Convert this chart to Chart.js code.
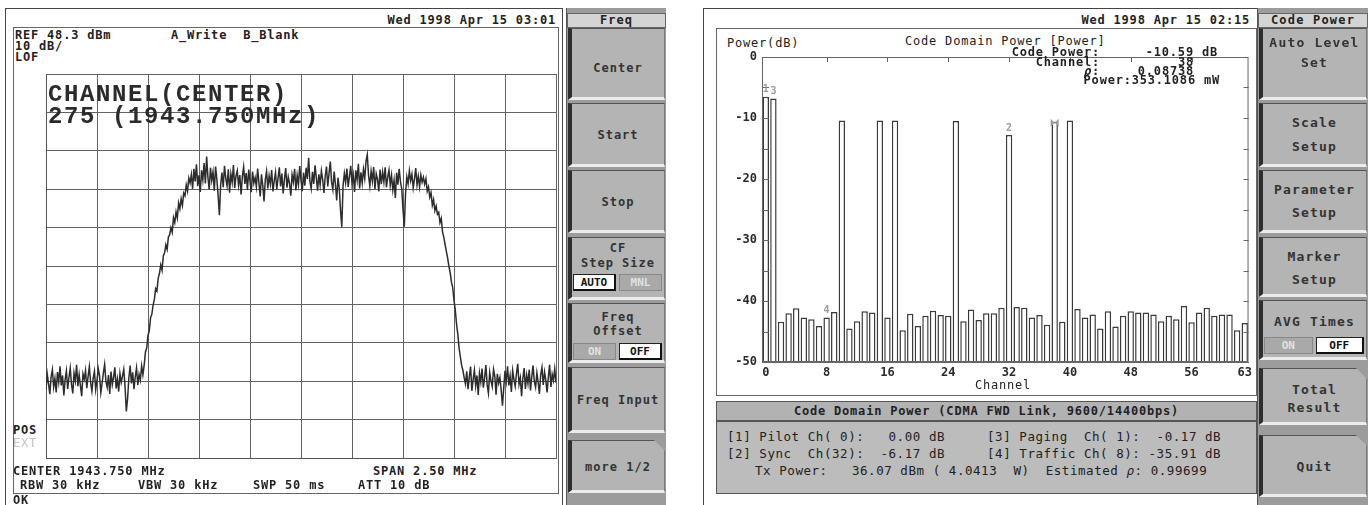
<!DOCTYPE html>
<html>
<head>
<meta charset="utf-8">
<title>Spectrum / Code Domain Power</title>
<script src="https://cdn.jsdelivr.net/npm/chart.js@4.4.1/dist/chart.umd.min.js"></script>
<style>
  html, body { margin:0; padding:0; background:#fff; }
  body { width:1368px; height:505px; position:relative; overflow:hidden; font-family:"DejaVu Sans Mono", monospace; color:#222; }
  .t { position:absolute; white-space:pre; font-weight:bold; font-size:12px; letter-spacing:.8px; line-height:14px; }
  .n { font-weight:normal; }
  .frame { position:absolute; border:1px solid #444; box-sizing:border-box; }
  .big { position:absolute; white-space:pre; font-family:"Liberation Mono", monospace; font-weight:bold; font-size:24px; letter-spacing:1.6px; line-height:24px; color:#2b2b2b; }
  canvas { position:absolute; }
  .panel { position:absolute; top:8px; height:497px; background:#9c9c9c; border-left:1px solid #555; box-sizing:border-box; }
  .hdr { position:absolute; left:0; right:0; top:5px; height:15px; background:#d4d4d4; border:1px solid #666; box-sizing:border-box;
         text-align:center; font-weight:bold; font-size:12px; line-height:13px; color:#222; }
  .key { position:absolute; left:1px; right:1px; background:#b4b4b4; box-sizing:border-box;
         border-left:4px solid #2e2e2e; border-top:1px solid #555; border-bottom:3px solid #ececec; border-right:1px solid #777; }
  .fold { clip-path: polygon(0 0, calc(100% - 11px) 0, 100% 11px, 100% 100%, 0 100%); }
  .kt { position:absolute; left:0; right:0; text-align:center; white-space:pre; font-weight:bold; color:#333; line-height:14px; }
  .tg { position:absolute; height:17px; box-sizing:border-box; text-align:center; font-weight:bold; font-size:11px; line-height:15px; }
  .tg.on { background:#fff; color:#111; border:1px solid #222; border-right:2px solid #111; border-bottom:2px solid #111; }
  .tg.off { background:#a9a9a9; color:#e2e2e2; border:1px solid #888; }
  .bar { position:absolute; background:#b2b2b2; border:1px solid #555; box-sizing:border-box; }
  .row { font-size:12.5px; letter-spacing:.55px; }
</style>
</head>
<body>

<!-- left screen: spectrum -->
<div class="frame" style="left:5px; top:8px; width:558px; height:510px;"></div>
<div class="frame" style="left:13px; top:27px; width:546px; height:467px; border-color:#666;"></div>
<div class="t" style="right:812px; top:13px;">Wed 1998 Apr 15 03:01</div>
<div class="t" style="left:15px; top:28px;">REF 48.3 dBm</div>
<div class="t" style="left:171px; top:28px;">A_Write  B_Blank</div>
<div class="t" style="left:15px; top:39px;">10 dB/</div>
<div class="t" style="left:15px; top:50px;">LOF</div>
<canvas id="spectrum" width="516" height="390" style="left:43px; top:71px;"></canvas>
<div class="big" style="left:48px; top:83px;">CHANNEL(CENTER)</div>
<div class="big" style="left:48px; top:105px;">275 (1943.750MHz)</div>
<div class="t" style="left:13px; top:423px;">POS</div>
<div class="t n" style="left:13px; top:436px; color:#c4c4c4;">EXT</div>
<div class="t" style="left:13px; top:464px;">CENTER 1943.750 MHz</div>
<div class="t" style="left:373px; top:464px;">SPAN 2.50 MHz</div>
<div class="t" style="left:20px; top:478px;">RBW 30 kHz</div>
<div class="t" style="left:138px; top:478px;">VBW 30 kHz</div>
<div class="t" style="left:253px; top:478px;">SWP 50 ms</div>
<div class="t" style="left:358px; top:478px;">ATT 10 dB</div>
<div class="t" style="left:13px; top:493px;">OK</div>

<div class="panel" id="left_keys" style="left:566px; width:100px;"></div>

<!-- right screen: code domain power -->
<div class="frame" style="left:703px; top:8px; width:556px; height:510px;"></div>
<div class="frame" style="left:716px; top:28px; width:541px; height:368px; border-color:#666;"></div>
<div class="t" style="right:118px; top:13px;">Wed 1998 Apr 15 02:15</div>
<div class="t n" style="left:727px; top:36px;">Power(dB)</div>
<div class="t n" style="left:905px; top:34px;">Code Domain Power [Power]</div>
<canvas id="cdp" width="540" height="350" style="left:716px; top:40px;"></canvas>
<div class="t" style="right:268px; top:45px;">Code Power:</div>
<div class="t" style="right:150px; top:45px;">-10.59 dB</div>
<div class="t" style="right:268px; top:55px;">Channel:</div>
<div class="t" style="right:174px; top:55px;">38</div>
<div class="t" style="right:268px; top:64px;"><i>ρ</i>:</div>
<div class="t" style="right:174px; top:64px;">0.08738</div>
<div class="t" style="right:148px; top:73px;">Power:353.1086 mW</div>
<div class="t n" style="left:953px; width:100px; text-align:center; top:378px;">Channel</div>

<div class="bar" style="left:716px; top:401px; width:541px; height:20px;"></div>
<div class="t" style="left:716px; width:541px; text-align:center; top:404px;">Code Domain Power (CDMA FWD Link, 9600/14400bps)</div>
<div class="bar" style="left:716px; top:421px; width:541px; height:73px; background:#bcbcbc;"></div>
<div class="t n row" style="left:727px; top:430px;">[1] Pilot Ch( 0):   0.00 dB</div>
<div class="t n row" style="left:987px; top:430px;">[3] Paging  Ch( 1):  -0.17 dB</div>
<div class="t n row" style="left:727px; top:447px;">[2] Sync  Ch(32):  -6.17 dB</div>
<div class="t n row" style="left:987px; top:447px;">[4] Traffic Ch( 8): -35.91 dB</div>
<div class="t n row" style="left:755px; top:464px;">Tx Power:   36.07 dBm ( 4.0413  W)  Estimated <i>ρ</i>: 0.99699</div>

<div class="panel" id="right_keys" style="left:1257px; width:111px;"></div>

<script>
// ---- spectrum trace (dBm), 401 sweep points across the span ----
var traceDbm = [
  -33.8, -29.9, -32.4, -35.1, -30.6, -28.7, -33.2, -31.0, -34.6, -29.3,
  -31.9, -27.8, -32.8, -30.2, -35.4, -31.3, -29.0, -33.7, -30.8, -28.3,
  -32.5, -34.9, -29.6, -31.6, -27.4, -33.0, -30.0, -32.9, -35.6, -29.8,
  -31.2, -28.9, -33.5, -30.5, -27.9, -32.1, -34.3, -30.9, -29.1, -33.9,
  -31.5, -28.4, -30.3, -34.7, -32.2, -29.5, -27.3, -31.8, -33.3, -30.1,
  -35.0, -29.2, -32.6, -30.7, -28.1, -33.6, -31.1, -34.4, -29.7, -32.0,
  -30.4, -28.6, -33.1, -39.6, -36.2, -30.8, -27.6, -32.3, -29.4, -33.8,
  -30.6, -28.2, -32.7, -29.9, -31.4, -27.7, -30.0,
  // rising edge
  -27.5, -24.1, -23.0, -19.8, -18.6, -15.2, -14.3, -11.9, -10.4, -7.6,
  -8.2, -4.9, -3.6, -1.4, -2.8, 0.9, 1.7, 3.8, 2.6, 5.9,
  6.4, 8.3, 7.1, 10.9, 9.6, 12.4, 10.8, 14.7, 13.2, 15.8,
  14.1, 17.3, 16.6, 19.4, 17.8, 21.2, 19.9,
  // channel top
  22.1, 18.4, 23.6, 20.3, 24.8, 19.1, 21.9, 17.6, 23.2, 20.7,
  25.1, 19.8, 26.8, 21.4, 18.2, 23.9, 20.6, 22.8, 17.9, 24.2,
  20.9, 16.7, 11.5, 19.5, 22.6, 18.8, 24.4, 21.1, 19.2, 23.5,
  17.4, 22.3, 20.1, 24.6, 18.6, 21.7, 23.1, 19.4, 22.0, 16.9,
  21.6, 24.1, 19.7, 22.5, 18.1, 23.4, 20.4, 17.5, 22.9, 19.9,
  21.3, 18.9, 23.7, 20.0, 16.4, 22.2, 19.3, 15.1, 20.8, 23.0,
  18.5, 21.8, 19.6, 23.3, 17.7, 20.5, 22.7, 18.3, 21.2, 24.0,
  19.0, 22.4, 17.2, 20.9, 23.8, 18.7, 21.5, 19.8, 16.6, 22.1,
  20.2, 23.6, 18.0, 21.9, 19.5, 24.3, 20.6, 17.8, 22.6, 19.2,
  23.9, 21.0, 26.5, 20.3, 18.4, 22.8, 19.7, 24.5, 21.4, 17.9,
  22.2, 19.4, 23.1, 20.8, 17.3, 21.7, 24.2, 19.0, 22.5, 25.5,
  20.1, 18.2, 22.9, 19.6, 15.4, 21.3, 18.6, 12.8, 8.5, 19.3,
  22.4, 20.0, 23.7, 18.9, 21.6, 24.4, 19.8, 22.0, 17.6, 23.2,
  20.7, 24.9, 18.5, 22.7, 19.9, 23.5, 21.1, 25.6, 27.3, 21.8,
  19.1, 23.0, 20.4, 24.1, 18.3, 22.3, 20.9, 17.7, 23.4, 19.6,
  22.8, 20.2, 24.0, 18.8, 21.4, 23.3, 19.3, 21.9, 18.1, 20.6,
  16.0, 22.6, 19.5, 23.6, 20.3, 18.4, 13.1, 8.5, 17.2, 21.5,
  19.7, 23.1, 20.5, 22.2, 18.6, 21.0, 23.8, 19.4, 21.7, 18.9,
  22.0, 20.1, 21.4,
  // falling edge
  19.6, 21.0, 17.8, 18.9, 16.2, 17.4, 14.1, 15.6, 12.7, 13.9,
  11.8, 12.3, 9.6, 10.7, 7.2, 5.8, 3.9, 2.1, 0.4, -1.8,
  -3.4, -5.9, -7.3, -10.6, -13.2, -16.8, -19.5, -23.1, -25.4, -27.6,
  -28.9, -30.8,
  // upper noise floor
  -32.4, -29.1, -33.8, -30.6, -27.9, -34.2, -31.3, -28.8, -32.9, -30.2,
  -35.3, -29.6, -31.9, -28.4, -33.4, -30.9, -27.5, -32.6, -34.8, -29.4,
  -31.6, -33.1, -28.6, -30.4, -35.2, -29.8, -32.2, -30.7, -34.0, -38.1,
  -33.5, -29.0, -31.7, -27.8, -32.8, -30.3, -34.5, -28.9, -31.2, -33.0,
  -29.7, -27.2, -32.5, -30.8, -35.6, -31.0, -28.3, -33.7, -30.1, -32.3,
  -28.7, -34.1, -30.5, -27.6, -31.8, -33.3, -29.5, -32.0, -35.0, -30.0,
  -28.1, -32.7, -29.3, -31.4, -34.6, -30.6, -27.4, -33.2, -29.9, -31.5,
  -28.5, -32.1
];
var refLevel = 48.3;     // dBm, top grid line
var dbPerDiv = 10;
var centerMHz = 1943.75;
var spanMHz = 2.5;

// ---- code domain power, one bar per Walsh channel (dB) ----
var channels = [];
for (var ch = 0; ch < 64; ch++) { channels.push(ch); }
var codePowerDb = [
  -6.5, -6.8, -43.4, -42.0, -41.2, -42.7, -43.0, -44.1, -42.7, -41.8,
  -10.4, -44.5, -43.3, -41.7, -41.9, -10.4, -42.7, -10.4, -44.8, -42.1,
  -44.1, -42.4, -41.6, -42.3, -42.4, -10.5, -43.3, -41.4, -43.1, -42.0,
  -42.0, -41.1, -12.8, -41.0, -41.1, -42.7, -42.3, -43.9, -10.6, -43.4,
  -10.4, -41.3, -42.7, -42.2, -44.5, -41.7, -44.2, -42.4, -41.7, -41.9,
  -41.9, -42.2, -43.3, -42.4, -43.0, -40.8, -43.5, -41.9, -41.1, -42.4,
  -42.2, -42.2, -44.8, -43.6
];
var channelTicks = [0, 8, 16, 24, 32, 40, 48, 56, 63];
var powerTicks = [0, -10, -20, -30, -40, -50];
var markerChannels = [0, 1, 8, 32];
var markerNames = ['1', '3', '4', '2'];
var activeMarker = 38;

Chart.defaults.font.family = '"DejaVu Sans Mono", monospace';
Chart.defaults.font.size = 12;
Chart.defaults.color = '#2a2a2a';

//Builds sweep points from the span settings.
var startMHz = centerMHz - spanMHz / 2;
var trace_points = [];
for (var i = 0; i < traceDbm.length; i++) {
  trace_points.push({x: startMHz + i * spanMHz / (traceDbm.length - 1), y: traceDbm[i]});
}

var freq_grid = [];
var level_grid = [];
for (var div = 0; div <= 10; div++) {
  freq_grid.push(startMHz + div * spanMHz / 10);
  level_grid.push(refLevel - div * dbPerDiv);
}

var ctx = document.getElementById("spectrum");
var spectrum_chart = new Chart(ctx, {
  type: 'scatter',
  data: {
    datasets: [{
      data: trace_points,
      showLine: true,
      borderColor: '#2c2c2c',
      borderWidth: 1.5,
      pointRadius: 0
    }]
  },
  options: {
    animation: false,
    responsive: false,
    layout: {padding: 3},
    plugins: {legend: {display: false}, tooltip: {enabled: false}},
    scales: {
      x: {
        type: 'linear',
        min: freq_grid[0],
        max: freq_grid[10],
        afterBuildTicks: function(axis) { axis.ticks = freq_grid.map(function(v) { return {value: v}; }); },
        ticks: {display: false},
        grid: {color: '#626262', drawTicks: false},
        border: {color: '#555'}
      },
      y: {
        min: level_grid[10],
        max: level_grid[0],
        afterBuildTicks: function(axis) { axis.ticks = level_grid.map(function(v) { return {value: v}; }); },
        ticks: {display: false},
        grid: {color: '#626262', drawTicks: false},
        border: {color: '#555'}
      }
    }
  }
});

// frame, inward tick marks and marker flags for the code domain plot
var cdpDecor = {
  id: 'cdpDecor',
  afterDraw: function(chart) {
    var c = chart.ctx;
    var a = chart.chartArea;
    var xs = chart.scales.x;
    var ys = chart.scales.y;
    c.save();
    c.strokeStyle = '#666';
    c.lineWidth = 1;
    c.strokeRect(a.left + 0.5, a.top + 0.5, a.right - a.left - 1, a.bottom - a.top - 1);
    c.beginPath();
    for (var v = -45; v < 0; v += 5) {
      var py = Math.round(ys.getPixelForValue(v)) + 0.5;
      c.moveTo(a.left, py); c.lineTo(a.left + 7, py);
      c.moveTo(a.right - 5, py); c.lineTo(a.right, py);
    }
    for (var k = 1; k < channelTicks.length - 1; k++) {
      var px = Math.round(xs.getPixelForValue(channelTicks[k])) + 0.5;
      c.moveTo(px, a.top); c.lineTo(px, a.top + 5);
    }
    c.stroke();

    c.fillStyle = '#9a9a9a';
    c.font = 'bold 10px "DejaVu Sans Mono"';
    c.textAlign = 'center';
    c.textBaseline = 'middle';
    for (var m = 0; m < markerChannels.length; m++) {
      var mc = markerChannels[m];
      c.fillText(markerNames[m], xs.getPixelForValue(mc), ys.getPixelForValue(codePowerDb[mc]) - 7);
    }
    var ax = xs.getPixelForValue(activeMarker);
    var ay = ys.getPixelForValue(codePowerDb[activeMarker]) + 1;
    c.beginPath();
    c.moveTo(ax - 4, ay - 4); c.lineTo(ax + 4, ay + 4); c.lineTo(ax + 4, ay - 4); c.lineTo(ax - 4, ay + 4);
    c.closePath();
    c.fill();
    c.restore();
  }
};

var ctx = document.getElementById("cdp");
var cdp_chart = new Chart(ctx, {
  type: 'bar',
  data: {
    labels: channels,
    datasets: [{
      data: codePowerDb,
      base: -50,
      backgroundColor: '#fff',
      borderColor: '#3a3a3a',
      borderWidth: 1.5,
      barPercentage: 0.84,
      categoryPercentage: 1
    }]
  },
  options: {
    animation: false,
    responsive: false,
    layout: {padding: {top: 17, right: 4, left: 0, bottom: 0}},
    plugins: {legend: {display: false}, tooltip: {enabled: false}},
    scales: {
      x: {
        grid: {display: false, drawTicks: false},
        border: {color: '#666'},
        afterFit: function(axis) { axis.height = 28; },
        ticks: {
          autoSkip: false,
          maxRotation: 0,
          padding: 4,
          font: {weight: 'bold'},
          callback: function(value, index) {
            return channelTicks.indexOf(index) >= 0 ? String(channels[index]) : '';
          }
        }
      },
      y: {
        min: -50,
        max: 0,
        afterFit: function(axis) { axis.width = 46; },
        afterBuildTicks: function(axis) { axis.ticks = powerTicks.map(function(v) { return {value: v}; }); },
        grid: {display: false, drawTicks: false},
        border: {color: '#666'},
        ticks: {padding: 5, font: {weight: 'bold'}}
      }
    }
  },
  plugins: [cdpDecor]
});

// ---- soft keys ----
function makeKeys(panelId, header, keys, fontSize, spacing) {
  var panel = document.getElementById(panelId);
  var h = document.createElement('div');
  h.className = 'hdr';
  h.textContent = header;
  h.style.letterSpacing = spacing + 'px';
  panel.appendChild(h);
  keys.forEach(function(k) {
    var key = document.createElement('div');
    key.className = 'key' + (k.fold ? ' fold' : '');
    key.style.top = (k.top - 8) + 'px';
    key.style.height = k.h + 'px';
    panel.appendChild(key);
    k.lines.forEach(function(line) {
      var t = document.createElement('div');
      t.className = 'kt';
      t.textContent = line[0];
      t.style.top = (line[1] - k.top - 8) + 'px';
      t.style.fontSize = fontSize + 'px';
      t.style.letterSpacing = spacing + 'px';
      key.appendChild(t);
    });
    if (k.toggle) {
      var w = panel.offsetWidth - 8;
      [k.toggle.a, k.toggle.b].forEach(function(label, n) {
        var b = document.createElement('div');
        b.className = 'tg ' + (n === k.toggle.sel ? 'on' : 'off');
        b.textContent = label;
        b.style.left = (n === 0 ? 1 : w / 2 + 1) + 'px';
        b.style.width = (w / 2 - 3) + 'px';
        b.style.top = (k.toggle.y - k.top - 1) + 'px';
        key.appendChild(b);
      });
    }
  });
}

makeKeys('left_keys', 'Freq', [
  {top: 28, h: 72, lines: [['Center', 68]]},
  {top: 103, h: 64, lines: [['Start', 135]]},
  {top: 170, h: 63, lines: [['Stop', 202]]},
  {top: 237, h: 63, lines: [['CF', 248], ['Step Size', 263]], toggle: {y: 274, a: 'AUTO', b: 'MNL', sel: 0}},
  {top: 303, h: 60, lines: [['Freq', 317], ['Offset', 331]], toggle: {y: 343, a: 'ON', b: 'OFF', sel: 1}},
  {top: 367, h: 66, lines: [['Freq Input', 400]]},
  {top: 440, h: 53, lines: [['more 1/2', 467]], fold: true}
], 12, 1);

makeKeys('right_keys', 'Code Power', [
  {top: 28, h: 72, lines: [['Auto Level', 43], ['Set', 63]]},
  {top: 103, h: 64, lines: [['Scale', 123], ['Setup', 147]]},
  {top: 170, h: 63, lines: [['Parameter', 190], ['Setup', 213]]},
  {top: 237, h: 60, lines: [['Marker', 257], ['Setup', 280]]},
  {top: 300, h: 60, lines: [['AVG Times', 322]], toggle: {y: 337, a: 'ON', b: 'OFF', sel: 1}},
  {top: 368, h: 57, lines: [['Total', 390], ['Result', 408]], fold: true},
  {top: 435, h: 62, lines: [['Quit', 467]], fold: true}
], 13, 1.2);
</script>
</body>
</html>
